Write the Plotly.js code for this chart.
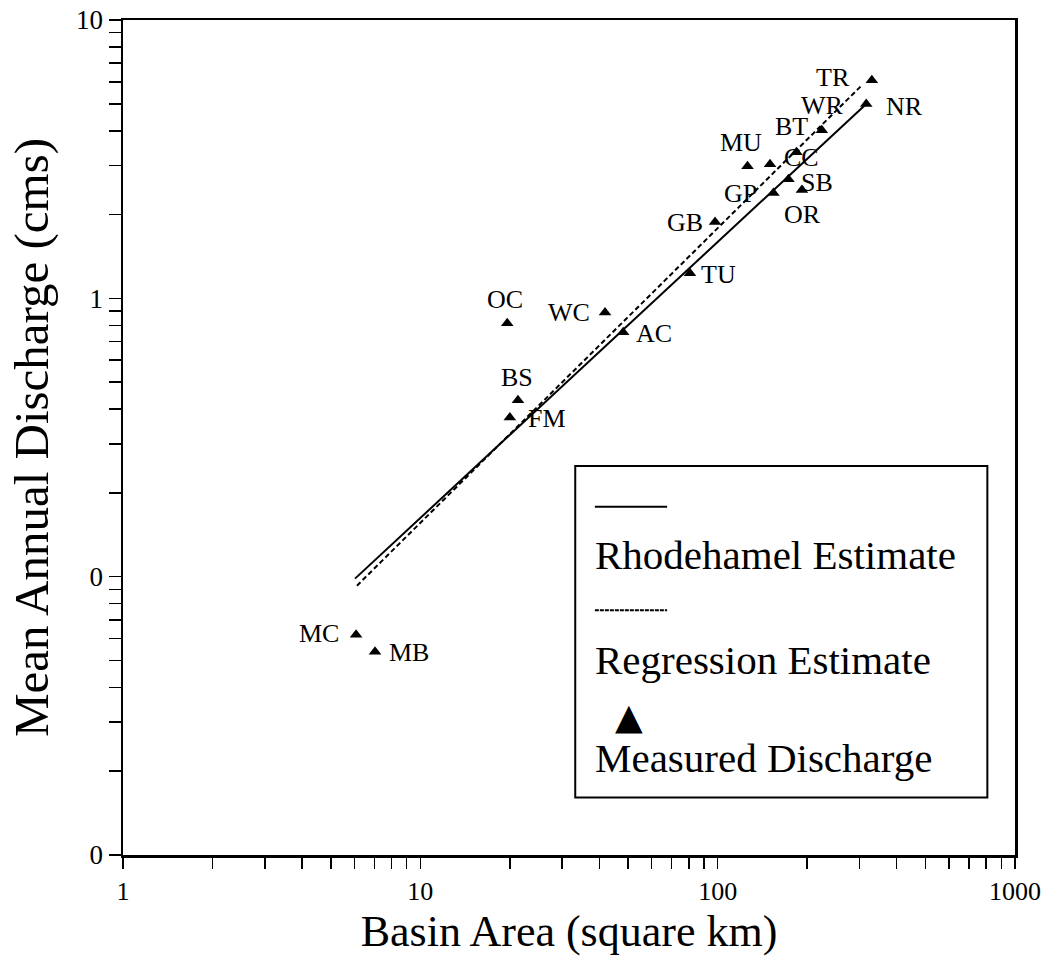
<!DOCTYPE html>
<html>
<head>
<meta charset="utf-8">
<script src="https://cdn.plot.ly/plotly-3.0.1.min.js"></script>
<style>html,body{margin:0;padding:0;background:#fff;}#chart{width:1043px;height:956px;}</style>
</head>
<body>
<div id="chart"></div>
<script>
// ---- data ----
const siteNames = ["TR","NR","WR","BT","MU","CC","SB","OR","GP","GB","TU","OC","WC","AC","BS","FM","MC","MB"];
const basinArea = [330, 316, 224, 184, 126, 150, 173, 192, 154, 98, 80.7, 19.6, 41.8, 48.1, 21.3, 20.0, 6.08, 7.04];
const measuredQ = [6.08, 4.99, 4.02, 3.35, 2.98, 3.03, 2.68, 2.45, 2.39, 1.88, 1.23, 0.813, 0.89, 0.755, 0.43, 0.373, 0.0618, 0.0537];
const rhodeArea = [6.03, 316];
const rhodeQ = [0.0984, 4.99];
const regArea = [6.12, 306];
const regQ = [0.0928, 5.84];
const xTickVals = [1,10,100,1000];
const xTickText = ["1","10","100","1000"];
const yTickVals = [0.01,0.1,1,10];
const yTickText = ["0","0","1","10"];

// ---- styling (label offsets in px) ----
const labelShift = {
  TR:[-39,3], NR:[38,-2], WR:[1,25], BT:[-5,26], MU:[-7,24], CC:[31,7], SB:[29,-3], OR:[1,-24],
  GP:[-33,0], GB:[-30,0], TU:[29,-1], OC:[-2,24], WC:[-36,0], AC:[31,-1], BS:[-1,23], FM:[37,-1],
  MC:[-37,1], MB:[34,-1]
};
const serif = "Liberation Serif, Times New Roman, serif";

function minorVals(lo, hi){
  const v=[];
  for(let d=lo; d<hi; d++){ for(let k=1;k<10;k++){ v.push(k*Math.pow(10,d)); } }
  v.push(Math.pow(10,hi));
  return v;
}
function tickSet(lo,hi,major,majorText){
  const vals=minorVals(lo,hi);
  const text=vals.map(v=>{const i=major.findIndex(m=>Math.abs(m-v)/m<1e-9);return i>=0?majorText[i]:"";});
  return {vals,text};
}
const xt=tickSet(0,3,xTickVals,xTickText);
const yt=tickSet(-2,1,yTickVals,yTickText);

const traces = [
  {x: rhodeArea, y: rhodeQ, mode:'lines', line:{color:'#000', width:2}, hoverinfo:'skip', showlegend:false},
  {x: regArea, y: regQ, mode:'lines', line:{color:'#000', width:2, dash:'5px,3px'}, hoverinfo:'skip', showlegend:false},
  {x: basinArea, y: measuredQ, mode:'markers', marker:{symbol:'triangle-up', size:11, color:'#000'}, showlegend:false}
];

const annotations = siteNames.map((n,i)=>({
  x: Math.log10(basinArea[i]), y: Math.log10(measuredQ[i]), xref:'x', yref:'y',
  text:n, showarrow:false, xanchor:'center', yanchor:'middle',
  xshift: labelShift[n][0], yshift: labelShift[n][1],
  font:{family:serif, size:26, color:'#000'}
}));

// legend (manual)
const legendItems = [
  {text:"Rhodehamel Estimate", y:0.359},
  {text:"Regression Estimate", y:0.234},
  {text:"Measured Discharge", y:0.116}
];
legendItems.forEach(it=>annotations.push({
  x:0.527, y:it.y, xref:'paper', yref:'paper', text:it.text, showarrow:false,
  xanchor:'left', yanchor:'middle', font:{family:serif, size:41, color:'#000'}
}));
annotations.push({x:0.567, y:0.166, xref:'paper', yref:'paper', text:'▲', showarrow:false,
  xanchor:'center', yanchor:'middle', font:{family:'DejaVu Sans', size:36, color:'#000'}});

const shapes = [
  {type:'rect', xref:'paper', yref:'paper', x0:0.507, x1:0.969, y0:0.069, y1:0.466, line:{color:'#000', width:2}, fillcolor:'#fff', layer:'below'},
  {type:'line', xref:'paper', yref:'paper', x0:0.529, x1:0.610, y0:0.417, y1:0.417, line:{color:'#000', width:2}},
  {type:'line', xref:'paper', yref:'paper', x0:0.529, x1:0.610, y0:0.293, y1:0.293, line:{color:'#000', width:2, dash:'4px,1px'}}
];

const layout = {
  width:1043, height:956,
  margin:{l:123, r:28, t:20, b:101},
  paper_bgcolor:'#fff', plot_bgcolor:'#fff',
  font:{family:serif, color:'#000'},
  xaxis:{type:'log', range:[0,3], tickmode:'array', tickvals:xt.vals, ticktext:xt.text,
    ticks:'outside', ticklen:11, tickwidth:1.5, tickcolor:'#000', showgrid:false, zeroline:false,
    showline:true, linecolor:'#000', linewidth:2.5, mirror:true,
    tickfont:{family:serif, size:26, color:'#000'},
    title:{text:'Basin Area (square km)', font:{family:serif, size:44, color:'#000'}, standoff:13}},
  yaxis:{type:'log', range:[-2,1], tickmode:'array', tickvals:yt.vals, ticktext:yt.text,
    ticks:'outside', ticklen:12, tickwidth:1.5, tickcolor:'#000', showgrid:false, zeroline:false,
    showline:true, linecolor:'#000', linewidth:2.5, mirror:true,
    tickfont:{family:serif, size:27, color:'#000'},
    title:{text:'Mean Annual Discharge (cms)', font:{family:serif, size:49, color:'#000'}, standoff:12}},
  annotations, shapes, showlegend:false
};

Plotly.newPlot('chart', traces, layout, {staticPlot:true, displayModeBar:false});
</script>
</body>
</html>
